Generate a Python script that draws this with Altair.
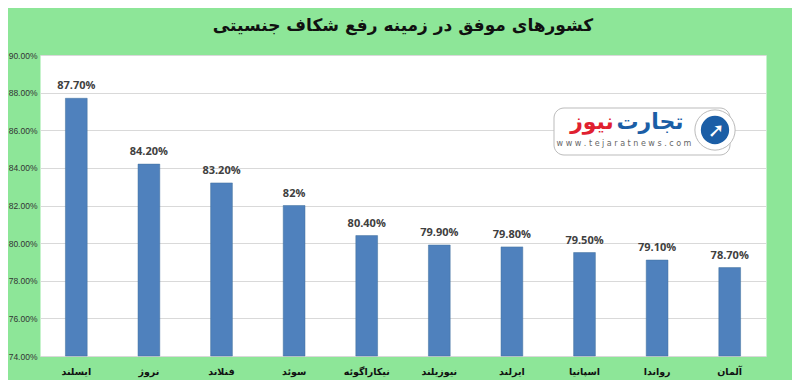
import altair as alt
import pandas as pd

countries = ["ایسلند", "نروژ", "فنلاند", "سوئد", "نیکاراگوئه", "نیوزیلند", "ایرلند", "اسپانیا", "رواندا", "آلمان"]
values = [0.877, 0.842, 0.832, 0.820, 0.804, 0.799, 0.798, 0.795, 0.791, 0.787]
value_labels = ["87.70%", "84.20%", "83.20%", "82%", "80.40%", "79.90%", "79.80%", "79.50%", "79.10%", "78.70%"]
y_ticks = [0.74, 0.76, 0.78, 0.80, 0.82, 0.84, 0.86, 0.88, 0.90]
title_text = "کشورهای موفق در زمینه رفع شکاف جنسیتی"

df = pd.DataFrame({"country": countries, "value": values, "label": value_labels})

BG = "#8de698"
BAR = "#4f81bd"

x_enc = alt.X("country:N", sort=countries, title=None,
              scale=alt.Scale(paddingInner=0.7, paddingOuter=0.35),
              axis=alt.Axis(labelAngle=0, ticks=False, domain=False, grid=False,
                            labelFont="DejaVu Sans", labelFontWeight="bold",
                            labelFontSize=9.5, labelColor="#111111", labelPadding=10))
y_enc = alt.Y("value:Q", title=None,
              scale=alt.Scale(domain=[0.74, 0.90], zero=False, clamp=True, nice=False),
              axis=alt.Axis(values=y_ticks, tickCount=20, format=".2%", ticks=False, domain=False,
                            grid=True, gridColor="#d9d9d9", gridWidth=1,
                            labelOverlap=False, labelBound=False, labelFlush=False,
                            labelFont="Liberation Sans", labelFontSize=8.5,
                            labelColor="#333333", labelPadding=3))

base = alt.Chart(df)
bars = base.mark_bar(color=BAR, stroke="#41719c", strokeWidth=0.5).encode(x=x_enc, y=y_enc)
texts = base.mark_text(baseline="bottom", dy=-7, font="Open Sans", fontWeight="bold",
                       fontSize=11, color="#404040").encode(
    x=alt.X("country:N", sort=countries), y="value:Q", text="label:N")

one = pd.DataFrame({"a": [0]})
logo_rect = alt.Chart(one).mark_rect(cornerRadius=10, fill="white", stroke="#bbbbbb",
                                     strokeWidth=1).encode(
    x=alt.value(514), x2=alt.value(690), y=alt.value(53), y2=alt.value(100))
logo_circle_outer = alt.Chart(one).mark_circle(size=1620, fill="white", stroke="#bbbbbb",
                                               strokeWidth=1, opacity=1).encode(
    x=alt.value(675), y=alt.value(75))
logo_circle_inner = alt.Chart(one).mark_circle(size=800, color="#1b5ea6", opacity=1).encode(
    x=alt.value(675), y=alt.value(75))
logo_arrow = alt.Chart(one).mark_text(text="➚", fontSize=20, color="white",
                                      font="DejaVu Sans", fontWeight="bold").encode(
    x=alt.value(676), y=alt.value(76))
logo_t1 = alt.Chart(one).mark_text(text="تجارت", fontSize=22, fontWeight="bold",
                                   font="DejaVu Sans", color="#1b5ea6").encode(
    x=alt.value(610), y=alt.value(67))
logo_t2 = alt.Chart(one).mark_text(text="نیوز", fontSize=22, fontWeight="bold",
                                   font="DejaVu Sans", color="#e02030").encode(
    x=alt.value(552), y=alt.value(67))
logo_url = alt.Chart(one).mark_text(text="w w w . t e j a r a t n e w s . c o m", fontSize=8,
                                    font="DejaVu Sans", color="#666666").encode(
    x=alt.value(584), y=alt.value(89))

chart = alt.layer(bars, texts, logo_rect, logo_circle_outer, logo_circle_inner,
                  logo_arrow, logo_t1, logo_t2, logo_url).properties(
    width=726, height=301,
    autosize=alt.AutoSizeParams(type="none"),
    padding={"left": 32, "top": 47, "right": 26, "bottom": 24},
    background=BG,
    title=alt.TitleParams(text=title_text, fontSize=17, fontWeight="bold",
                          font="DejaVu Sans", color="#111111", anchor="middle",
                          offset=16),
).configure_view(fill="white", stroke="transparent")

chart.save("out.html", embed_options={"renderer": "svg", "actions": False})
